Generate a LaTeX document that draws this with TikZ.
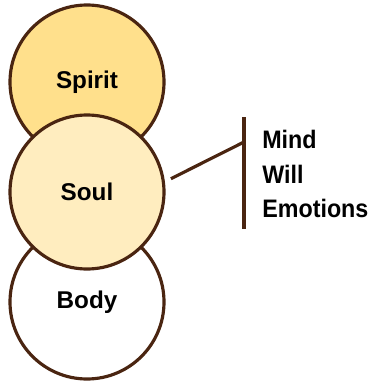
\documentclass[tikz,border=0pt]{standalone}
\usepackage{fontspec}
\setmainfont{Liberation Sans}
\usepackage{tikz}
\usetikzlibrary{calc}
\definecolor{ringbrown}{HTML}{4A2511}
\definecolor{spiritgold}{HTML}{FFE08C}
\definecolor{soulcream}{HTML}{FFEDBF}
\tikzset{
  partcircle/.style={circle,draw=ringbrown,line width=1.8pt,inner sep=0pt,
    minimum size=3.08cm,font=\fontsize{13.8}{16}\selectfont\bfseries},
  facultylabel/.style={anchor=base west,inner sep=0pt,xscale=0.92,
    font=\fontsize{14.4}{16}\selectfont\bfseries},
  bracketline/.style={draw=ringbrown,line width=1.8pt}
}
\begin{document}
\begin{tikzpicture}
  \useasboundingbox (0,0) rectangle (7.46,-7.62);
  \node[partcircle,fill=spiritgold] (spirit) at (1.74,-1.64) {Spirit};
  \node[partcircle,fill=white] (body) at (1.74,-6.04) {Body};
  \node[partcircle,fill=soulcream] (soul) at (1.74,-3.84) {Soul};
  \coordinate (bartop) at (4.88,-2.34);
  \coordinate (barbot) at (4.88,-4.58);
  \coordinate (joint) at (4.88,-2.84);
  \coordinate (soulside) at ($(soul.center)+(9:1.7)$);
  \draw[bracketline] (bartop) -- (barbot);
  \draw[bracketline] (soulside) -- (joint);
  \node[facultylabel] (mind) at (5.24,-2.96) {Mind};
  \node[facultylabel] (will) at (5.24,-3.66) {Will};
  \node[facultylabel] (emotions) at (5.24,-4.34) {Emotions};
\end{tikzpicture}
\end{document}
